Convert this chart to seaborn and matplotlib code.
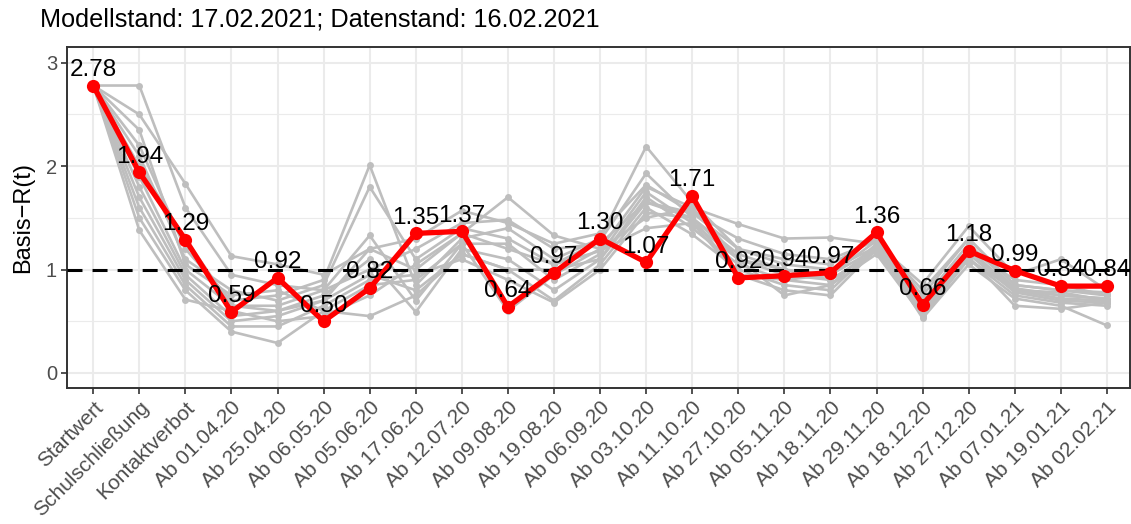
import matplotlib
matplotlib.use("Agg")
import matplotlib.pyplot as plt
import seaborn as sns
import pandas as pd

# Intervention periods (x axis)
phases = [
    "Startwert", "Schulschließung", "Kontaktverbot", "Ab 01.04.20", "Ab 25.04.20",
    "Ab 06.05.20", "Ab 05.06.20", "Ab 17.06.20", "Ab 12.07.20", "Ab 09.08.20",
    "Ab 19.08.20", "Ab 06.09.20", "Ab 03.10.20", "Ab 11.10.20", "Ab 27.10.20",
    "Ab 05.11.20", "Ab 18.11.20", "Ab 29.11.20", "Ab 18.12.20", "Ab 27.12.20",
    "Ab 07.01.21", "Ab 19.01.21", "Ab 02.02.21",
]

# Current model run: basic reproduction number per period
r_current = [2.78, 1.94, 1.29, 0.59, 0.92, 0.50, 0.82, 1.35, 1.37, 0.64, 0.97, 1.30,
             1.07, 1.71, 0.92, 0.94, 0.97, 1.36, 0.66, 1.18, 0.99, 0.84, 0.84]

# Earlier model runs
run_01 = [2.78, 2.78, 1.60, 0.95, 0.85, 0.80, 1.00, 1.20, 1.45, 1.48, 1.20, 1.25, 1.65, 1.55, 1.30, 1.15, 1.10, 1.28, 0.80, 1.30, 0.85, 0.80, 0.75]
run_02 = [2.78, 2.50, 1.83, 1.13, 1.05, 0.95, 1.20, 1.00, 1.35, 1.70, 1.33, 1.20, 1.80, 1.60, 1.44, 1.30, 1.31, 1.25, 0.86, 1.42, 0.95, 1.10, 0.80]
run_03 = [2.78, 2.20, 1.20, 0.70, 0.75, 0.90, 2.01, 0.85, 1.30, 1.40, 1.10, 1.30, 2.19, 1.65, 1.20, 1.05, 1.00, 1.22, 0.70, 1.25, 0.82, 0.75, 0.72]
run_04 = [2.78, 2.10, 1.10, 0.80, 0.70, 0.85, 1.80, 1.10, 1.40, 1.30, 1.05, 1.28, 1.93, 1.50, 1.15, 1.00, 0.95, 1.20, 0.65, 1.20, 0.80, 0.72, 0.70]
run_05 = [2.78, 1.90, 1.00, 0.65, 0.65, 0.80, 1.33, 0.70, 1.25, 1.25, 0.90, 1.15, 1.75, 1.45, 1.10, 0.95, 0.90, 1.18, 0.60, 1.15, 0.78, 0.70, 0.68]
run_06 = [2.78, 1.80, 0.95, 0.55, 0.60, 0.75, 1.10, 0.59, 1.20, 1.10, 0.80, 1.10, 1.70, 1.40, 1.05, 0.90, 0.85, 1.15, 0.55, 1.10, 0.75, 0.68, 0.65]
run_07 = [2.78, 1.70, 0.90, 0.50, 0.55, 0.70, 0.95, 0.80, 1.15, 1.00, 0.70, 1.05, 1.60, 1.34, 1.00, 0.85, 0.80, 1.22, 0.53, 1.05, 0.72, 0.65, 0.46]
run_08 = [2.78, 1.60, 0.85, 0.45, 0.45, 0.65, 0.90, 0.95, 1.10, 0.90, 0.68, 1.00, 1.55, 1.50, 0.95, 0.80, 0.75, 1.20, 0.58, 1.12, 0.65, 0.62, 0.68]
run_09 = [2.78, 1.50, 0.80, 0.40, 0.29, 0.60, 0.85, 0.90, 1.25, 0.60, 0.95, 1.20, 1.50, 1.60, 1.10, 0.75, 0.85, 1.25, 0.62, 1.18, 0.80, 0.75, 0.72]
run_10 = [2.78, 1.38, 0.71, 0.60, 0.50, 0.55, 0.75, 1.05, 1.35, 1.20, 1.05, 1.18, 1.40, 1.45, 0.95, 0.90, 0.95, 1.28, 0.68, 1.20, 0.90, 0.85, 0.75]
run_11 = [2.78, 2.00, 1.30, 0.65, 0.60, 0.70, 1.20, 1.30, 1.57, 1.45, 1.25, 1.35, 1.82, 1.55, 1.20, 1.10, 1.05, 1.30, 0.75, 1.30, 0.85, 0.80, 0.78]
run_12 = [2.78, 2.35, 1.05, 0.75, 0.80, 0.60, 0.55, 0.75, 1.15, 1.00, 1.00, 1.10, 1.65, 1.50, 1.10, 1.00, 0.90, 1.18, 0.70, 1.10, 0.80, 0.78, 0.70]

earlier_runs = [run_01, run_02, run_03, run_04, run_05, run_06,
                run_07, run_08, run_09, run_10, run_11, run_12]

title = "Modellstand: 17.02.2021; Datenstand: 16.02.2021"
y_label = "Basis\u2212R(t)"

# Long-form tables
hist = pd.DataFrame(
    [(i, p, v) for i, run in enumerate(earlier_runs) for p, v in zip(phases, run)],
    columns=["run", "phase", "R"],
)
cur = pd.DataFrame({"phase": phases, "R": r_current})

sns.set_theme(style="whitegrid")
plt.rcParams["font.family"] = ["Liberation Sans", "DejaVu Sans"]

fig = plt.figure(figsize=(11.31, 5.24), dpi=100)
ax = fig.add_axes([0.05897, 0.2590, 0.9401, 0.6508])
ax.set_facecolor("white")

sns.lineplot(data=hist, x="phase", y="R", units="run", estimator=None,
             color="#BEBEBE", linewidth=1.9, marker="o", markersize=5,
             markeredgewidth=0, ax=ax, zorder=2)

ax.axhline(1.0, color="black", linewidth=2.2, dashes=(4.9, 3.3), zorder=3)

sns.lineplot(data=cur, x="phase", y="R", color="#FF0000", linewidth=3.8,
             marker="o", markersize=9.5, markeredgewidth=0, ax=ax, zorder=4)

for i, v in enumerate(r_current):
    ax.annotate(f"{v:.2f}", (i, v), xytext=(0, 7), textcoords="offset points",
                ha="center", va="baseline", fontsize=17.5, color="black", zorder=5)

ax.set_xlim(-0.576, len(phases) - 0.5)
ax.set_ylim(-0.148, 3.15)
ax.set_yticks([0, 1, 2, 3])
ax.set_yticks([0.5, 1.5, 2.5], minor=True)

ax.grid(which="major", color="#EBEBEB", linewidth=1.5)
ax.grid(which="minor", axis="y", color="#EBEBEB", linewidth=0.8)
ax.set_axisbelow(True)
for s in ax.spines.values():
    s.set_color("#333333")
    s.set_linewidth(1.4)

ax.tick_params(axis="both", which="major", length=4, width=1.2, color="#333333",
               labelcolor="#4D4D4D", left=True, bottom=True)
ax.tick_params(axis="x", pad=3, labelsize=15)
ax.tick_params(axis="y", pad=3, labelsize=14.5)
ax.tick_params(which="minor", length=0)
plt.setp(ax.get_xticklabels(), rotation=45, ha="right", rotation_mode="anchor")

ax.set_xlabel("")
ax.set_ylabel(y_label, fontsize=17, color="black", labelpad=8)

fig.text(40 / 1131, 1 - 19 / 524, title, ha="left", va="center",
         fontsize=18.2, color="black")

fig.savefig("out.png", dpi=100)
